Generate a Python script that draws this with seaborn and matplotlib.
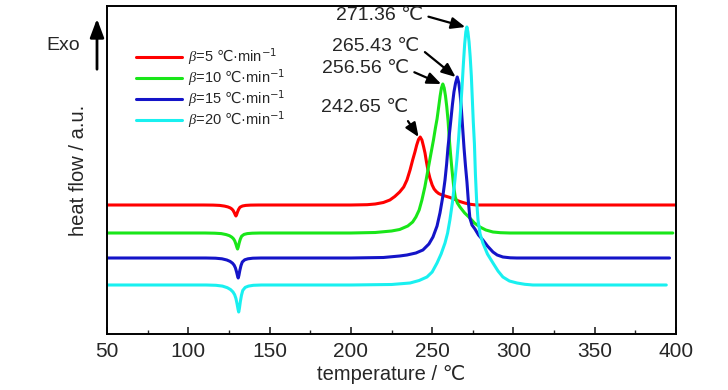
import matplotlib
matplotlib.use("Agg")
import matplotlib.pyplot as plt
import seaborn as sns
import pandas as pd

# heating rates and curve data (heat flow in arbitrary units)
rates = [5, 10, 15, 20]
colors = ["#ff0000", "#19e619", "#1414c8", "#19f0f0"]

temp_5 = [50, 109.3, 115.3, 119.3, 122.3, 124.3, 125.8, 126.8, 127.6, 128.3, 128.9, 129.3, 129.7,
          130.3, 131.0, 131.8, 133.3, 135.3, 138.3, 143.3,
          200, 210, 215, 220, 224, 227, 230, 232.5, 234.5, 236.4, 238, 239.4, 240.5, 241.6, 242.65,
          243.7, 244.7, 245.6, 246.5, 247.4, 248.6, 250, 251.2, 252.5, 254, 256, 258, 261, 264, 267,
          270, 273, 277, 400]
hf_5 = [129, 129, 128.9, 128.6, 127.9, 127.1, 126.1, 125.0, 123.5, 121.3, 119.1, 118, 119.3,
        122.2, 124.8, 126.8, 128.0, 128.6, 128.9, 129,
        129, 129.3, 130, 131.5, 134, 137.5, 142, 147, 154, 164, 174, 182, 189, 194.5, 197,
        194, 187.5, 181, 172, 164, 156, 149, 145, 142.5, 140.5, 139, 138, 136.5, 134.5, 132.5,
        131, 129.8, 129, 129]

temp_10 = [50, 110.3, 116.3, 120.3, 123.3, 125.3, 126.8, 127.8, 128.6, 129.3, 129.9, 130.3, 130.7,
           131.3, 132.0, 132.8, 134.3, 136.3, 139.3, 144.3,
           200, 215, 225, 230, 235, 238, 240, 242, 243.7, 245.5, 247.4, 249.2, 250.8, 252, 253, 254,
           254.9, 255.7, 256.56, 257.4, 258.2, 259, 259.8, 260.5, 261.3, 262.2, 263.2, 264.2, 265.5,
           267.1, 270, 273.2, 276, 279.4, 283, 287.4, 292, 297.8, 398]
hf_10 = [101, 101, 100.8, 100.4, 99.4, 98.3, 96.8, 95.2, 93, 89.8, 86.6, 85, 86.9,
         91.1, 94.9, 97.8, 99.6, 100.4, 100.8, 101,
         101, 101.5, 103, 104.5, 108, 112, 117, 124, 134, 147, 164, 180, 194, 206, 215, 227,
         238, 246, 250, 246, 238, 227, 213, 196, 180, 164, 148, 137, 131,
         127, 121, 116, 111, 107, 104, 102, 101.3, 101, 101]

temp_15 = [50, 110.7, 116.7, 120.7, 123.7, 125.7, 127.2, 128.2, 129.0, 129.7, 130.3, 130.7, 131.1,
           131.7, 132.4, 133.2, 134.7, 136.7, 139.7, 144.7,
           200, 220, 230, 234.5, 240, 244.3, 248, 250.5, 253, 254.8, 256.5, 257.9, 258.9, 259.7,
           260.6, 261.5, 262.5, 263.4, 264.4, 265.43, 266.4, 267.2, 268, 268.8, 269.6, 270.5, 271.4,
           272.3, 273.2, 274.5, 276.3, 278.5, 281.2, 284, 287.4, 290, 293.5, 298, 302, 396]
hf_15 = [76, 76, 75.8, 75.2, 74, 72.6, 70.8, 68.8, 66, 62, 58, 56, 58.4,
         63.6, 68.4, 72, 74.2, 75.2, 75.8, 76,
         76, 76.5, 78, 79, 81, 84, 90, 97, 108, 121, 137, 154, 170, 186,
         200, 214, 230, 242, 251, 257, 251, 240, 224, 205, 186, 168, 152,
         132, 116, 109, 105, 99, 94, 88, 82, 79, 77, 76.2, 76, 76]

temp_20 = [50, 111, 117, 121, 124, 126, 127.5, 128.5, 129.3, 130.0, 130.6, 131.0, 131.4,
           132.0, 132.7, 133.5, 135.0, 137.0, 140.0, 145.0,
           200, 225, 236.4, 242, 246.8, 250, 253, 255.5, 257.9, 259.5, 260.9, 262.5, 264, 265.2,
           266.3, 267.3, 268.3, 269.2, 270, 270.7, 271.36, 272, 272.7, 273.4, 274.1, 274.7, 275.3,
           276.0, 276.6, 277.3, 278.2, 279.5, 281.2, 284, 287.4, 290.5, 293.5, 297.5, 302.2, 307,
           312, 394]
hf_20 = [49, 49, 48.7, 47.9, 46.3, 44.4, 42.0, 39.3, 35.5, 30.1, 24.7, 22, 25.2,
         32.3, 38.7, 43.6, 46.6, 47.9, 48.7, 49,
         49, 49.5, 51, 53.5, 57, 62, 71, 80, 91, 101, 114, 132, 154, 174,
         196, 220, 245, 270, 290, 302, 307, 302, 292, 277, 258, 235, 212,
         190, 160, 135, 114, 100, 91, 80, 71, 63, 57, 53, 51, 49.7,
         49, 49]

peak_temps = [242.65, 256.56, 265.43, 271.36]
peak_hf = [197, 250, 257, 307]
label_pos = [(208.7, 227), (208.7, 266), (215.4, 288), (217.3, 319)]

temps = [temp_5, temp_10, temp_15, temp_20]
hfs = [hf_5, hf_10, hf_15, hf_20]
labels = [rf"$\beta$={r} $\mathrm{{℃}}$·min$^{{-1}}$" for r in rates]

frames = []
for lab, t, h in zip(labels, temps, hfs):
    frames.append(pd.DataFrame({"temperature": t, "heat flow": h, "rate": lab}))
df = pd.concat(frames, ignore_index=True)

sns.set_style("white")
plt.rcParams["font.family"] = ["Liberation Sans", "DejaVu Sans"]
plt.rcParams["mathtext.fontset"] = "custom"
plt.rcParams["mathtext.it"] = "Liberation Serif:italic"
plt.rcParams["mathtext.rm"] = "DejaVu Sans"

fig = plt.figure(figsize=(7.28, 3.9), dpi=100)
ax = fig.add_axes([0.147, 0.1436, 0.7816, 0.841])

sns.lineplot(data=df, x="temperature", y="heat flow", hue="rate", palette=colors,
             sort=False, estimator=None, linewidth=2.2, ax=ax)

ax.set_xlim(50, 400)
ax.set_ylim(0, 328)
ax.set_xticks(range(50, 401, 50))
ax.set_xticks(range(75, 400, 50), minor=True)
ax.set_yticks([])
ax.tick_params(axis="x", which="major", direction="in", length=5, width=1.2,
               labelsize=15, pad=6, bottom=True)
ax.tick_params(axis="x", which="minor", direction="in", length=3, width=1.0, bottom=True)
for s in ax.spines.values():
    s.set_color("black")
    s.set_linewidth(1.4)

ax.set_xlabel("temperature / ℃", fontsize=14.5, labelpad=3)
ax.set_ylabel("heat flow / a.u.", fontsize=14.5, labelpad=14)

handles, _ = ax.get_legend_handles_labels()
ax.legend(handles, labels, loc="upper left", bbox_to_anchor=(0.027, 0.915), frameon=False,
          fontsize=10.5, handlelength=3.2, handletextpad=0.4, labelspacing=0.05)

rel = [(0.95, 0.0), (1.0, 0.4), (1.0, 0.4), (1.0, 0.5)]
for (tx, ty), pt, ph, rp in zip(label_pos, peak_temps, peak_hf, rel):
    ax.annotate(f"{pt:.2f} ℃", xy=(pt - 1.0, ph), xytext=(tx, ty), fontsize=14,
                ha="center", va="center",
                arrowprops=dict(arrowstyle="-|>,head_length=0.6,head_width=0.25",
                                color="black", lw=1.6, relpos=rp, shrinkA=2, shrinkB=0))

# Exo arrow outside the axes
fig.text(63 / 728, 1 - 45 / 390, "Exo", fontsize=14, ha="center", va="center")
fig.add_artist(matplotlib.patches.FancyArrowPatch((97 / 728, 1 - 72 / 390), (97 / 728, 1 - 16 / 390),
                                                  transform=fig.transFigure,
                                                  arrowstyle="-|>,head_length=0.8,head_width=0.3",
                                                  color="black", lw=2.0, mutation_scale=14))

fig.savefig("out.png", dpi=100)
